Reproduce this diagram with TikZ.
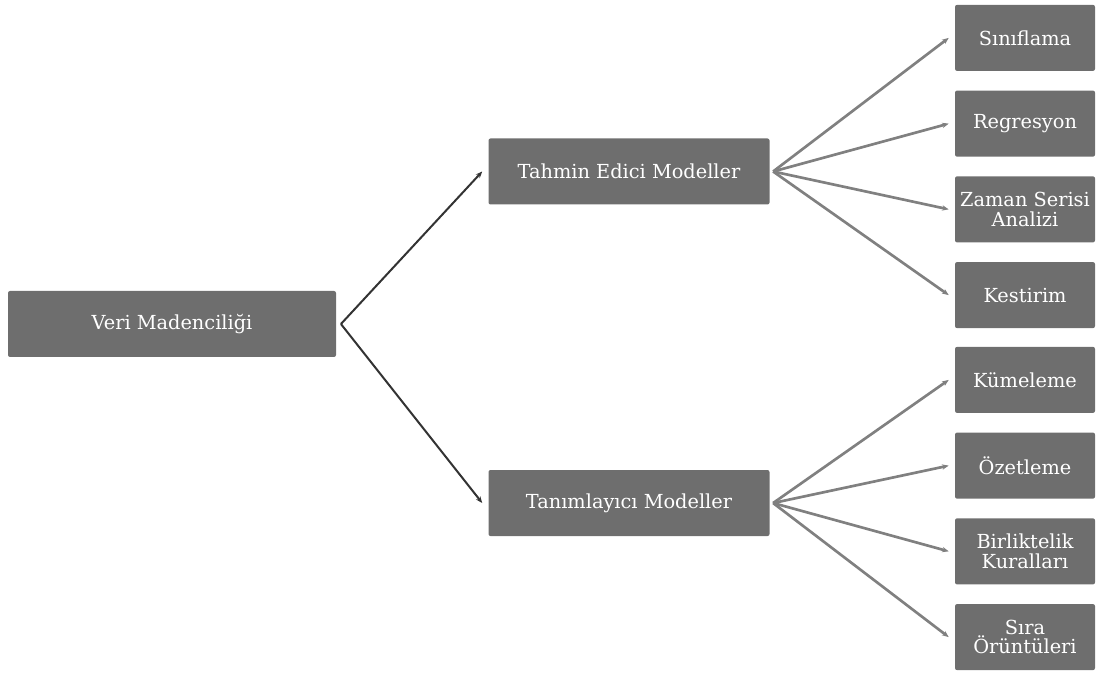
\documentclass[tikz,border=0pt]{standalone}
\usepackage{fontspec}
\setmainfont{DejaVu Serif}
\usetikzlibrary{arrows.meta}
\definecolor{boxgray}{RGB}{110,110,110}
\begin{document}
\begin{tikzpicture}[x=0.75pt,y=0.75pt,grow'=right,
        edge from parent path={([xshift=2.5pt]\tikzparentnode.east) -- ([xshift=-4.5pt]\tikzchildnode.west)}]
        \useasboundingbox (0,0) rectangle (1096,672);
        \tikzstyle{box}=[fill=boxgray,text=white,rounded corners=1.5pt,inner sep=2pt,align=center,font=\fontsize{14.5}{14.5}\selectfont,minimum height=49.5pt]
        \tikzstyle{rootlink}=[draw=black!80,line width=1.5pt,-{Stealth[length=5pt,width=4pt]}]
        \tikzstyle{leaflink}=[draw=black!50,line width=2pt,-{Stealth[length=5pt,width=4pt]}]
        \tikzstyle{level 1}=[level distance=342.75pt, sibling distance=256.5pt, edge from parent/.style={draw=none}, every node/.append style={box,minimum width=210.75pt}]
        \tikzstyle{level 2}=[level distance=297pt, sibling distance=64.3pt, edge from parent/.style={leaflink}, every node/.append style={box,minimum width=105pt}]
        \node[box,minimum width=246pt] (veri) at (172,348) {Veri Madenciliği};
        \coordinate (fork) at (172,334.5)
            child[yshift=-3.75pt, every child/.style={yshift=3.75pt}] {node (tahmin) {Tahmin Edici Modeller}
                child {node (sinif) {Sınıflama}}
                child {node (regr) {Regresyon}}
                child {node (zaman) {Zaman Serisi\\Analizi}}
                child {node (kest) {Kestirim}}
            }
            child[yshift=4.1pt, every child/.style={yshift=-4.1pt}] {node (tanim) {Tanımlayıcı Modeller}
                child {node (kume) {Kümeleme}}
                child {node (ozet) {Özetleme}}
                child {node (birl) {Birliktelik\\Kuralları}}
                child {node (sira) {Sıra\\Örüntüleri}}
            };
        \draw[rootlink] ([xshift=3.5pt]veri.east) -- ([xshift=-4.5pt]tahmin.west);
        \draw[rootlink] ([xshift=3.5pt]veri.east) -- ([xshift=-4.5pt]tanim.west);
    \end{tikzpicture}
\end{document}
